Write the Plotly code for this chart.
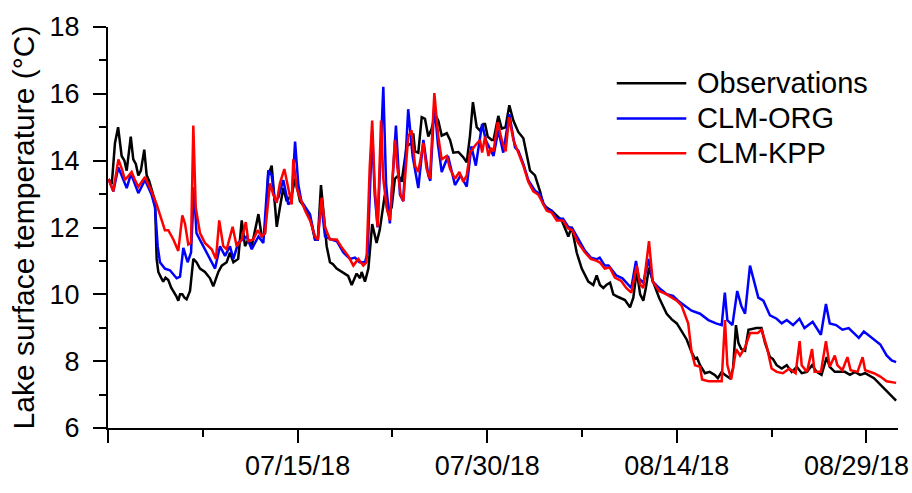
import pandas as pd
import plotly.graph_objects as go

START = pd.Timestamp("2018-06-30")

# Observed lake surface temperature (days since 2018-06-30, deg C)
obs_day = [0.05, 0.3, 0.55, 0.8, 1.08, 1.3, 1.48, 1.8, 2.0, 2.2, 2.4, 2.6, 2.87, 3.06, 3.25, 3.45, 3.72, 3.85, 3.98,
           4.2, 4.37, 4.55, 4.77, 5.0, 5.17, 5.4, 5.56, 5.7, 5.88, 6.05, 6.22, 6.49, 6.75, 7.0, 7.28, 7.67, 8.07, 8.33,
           8.73, 9.0, 9.39, 9.65, 9.92, 10.3, 10.58, 10.84, 11.1, 11.37, 11.9, 12.16, 12.42, 12.68, 12.95, 13.2, 13.35,
           13.6, 13.87, 14.14, 14.53, 14.8, 15.19, 15.58, 15.98, 16.38, 16.6, 16.85, 17.03, 17.3, 17.56, 17.8, 18.09,
           18.62, 19.0, 19.28, 19.67, 19.94, 20.07, 20.33, 20.6, 20.9, 21.1, 21.25, 21.5, 21.9, 22.18, 22.44, 22.7,
           22.97, 23.23, 23.63, 24.02, 24.15, 24.29, 24.55, 24.82, 25.08, 25.34, 25.6, 25.87, 26.13, 26.4, 26.8, 27.06,
           27.32, 27.72, 28.11, 28.38, 28.64, 28.87, 29.17, 29.43, 29.7, 29.83, 30.04, 30.36, 30.5, 30.88, 31.15,
           31.45, 31.75, 32.07, 32.46, 32.86, 33.12, 33.39, 33.78, 34.18, 34.44, 34.71, 35.1, 35.5, 35.9, 36.42,
           36.68, 37.08, 37.48, 38.0, 38.39, 38.66, 38.92, 39.19, 39.45, 39.72, 39.98, 40.37, 40.9, 41.3, 41.56,
           41.83, 42.1, 42.35, 42.55, 42.8, 43.1, 43.6, 44.2, 44.6, 45.0, 45.38, 45.78, 46.17, 46.44, 46.6, 46.84,
           47.23, 47.6, 48.0, 48.25, 48.55, 48.8, 49.2, 49.45, 49.68, 49.87, 50.1, 50.4, 50.67, 51.3, 51.7, 51.98,
           52.37, 52.6, 52.9, 53.3, 53.7, 54.09, 54.5, 54.88, 55.3, 55.7, 56.07, 56.45, 56.86, 57.1, 57.5, 57.9,
           58.3, 58.7, 59.1, 59.5, 59.9, 60.6, 61.1, 61.6, 62.0, 62.35]
obs_temp = [13.45, 13.3, 14.52, 15.0, 14.14, 14.0, 13.7, 14.72, 14.04, 13.9, 13.56, 13.7, 14.33, 13.56, 13.4, 13.17,
            12.79, 11.06, 10.67, 10.5, 10.38, 10.5, 10.43, 10.2, 10.1, 9.95, 9.81, 10.0, 10.0, 9.9, 9.85, 10.1,
            11.06, 10.96, 10.77, 10.67, 10.48, 10.24, 10.67, 10.86, 10.96, 11.25, 10.96, 11.06, 12.21, 11.44, 11.64,
            11.44, 12.4, 11.73, 11.83, 13.56, 13.85, 12.6, 12.02, 12.6, 13.18, 12.79, 12.98, 13.46, 12.79, 12.6,
            12.3, 11.64, 11.64, 13.27, 12.5, 11.44, 10.96, 10.9, 10.77, 10.65, 10.55, 10.28, 10.62, 10.48, 10.67,
            10.38, 10.77, 12.1, 11.8, 11.54, 11.93, 12.98, 12.4, 12.6, 13.46, 13.56, 13.37, 14.43, 14.53, 14.82,
            14.28, 14.24, 15.3, 15.25, 14.72, 14.95, 15.39, 15.2, 14.75, 14.82, 14.62, 14.24, 14.26, 14.1, 13.95,
            14.75, 15.75, 15.0, 14.9, 15.1, 15.1, 14.72, 14.62, 14.62, 15.34, 14.96, 15.0, 15.66, 15.2, 14.86,
            14.67, 14.14, 13.7, 13.56, 13.08, 12.69, 12.6, 12.5, 12.36, 12.21, 11.73, 12.02, 11.25, 10.77, 10.38,
            10.28, 10.57, 10.28, 10.19, 10.29, 10.35, 10.0, 9.92, 9.83, 9.61, 9.9, 10.7, 10.0, 9.81, 10.19, 10.8,
            10.4, 9.9, 9.42, 9.25, 9.13, 8.9, 8.65, 8.27, 8.07, 8.1, 7.88, 7.64, 7.68, 7.59, 7.49, 7.68, 7.59, 7.49,
            7.78, 9.08, 8.55, 8.36, 8.31, 8.94, 8.99, 8.99, 8.55, 8.12, 8.07, 7.88, 7.78, 7.88, 7.68, 7.83, 7.64,
            7.68, 7.88, 7.68, 7.59, 8.12, 7.83, 7.68, 7.68, 7.68, 7.59, 7.68, 7.59, 7.64, 7.49, 7.3, 7.11, 6.96, 6.82]

# CLM-ORG simulation
org_day = [0.05, 0.42, 0.82, 1.1, 1.48, 1.82, 2.1, 2.4, 2.93, 3.2, 3.45, 3.72, 3.93, 4.11, 4.5, 4.9, 5.17, 5.43, 5.7,
           5.96, 6.3, 6.57, 6.8, 7.0, 7.4, 7.8, 8.2, 8.47, 8.86, 9.26, 9.65, 9.92, 10.3, 10.7, 10.97, 11.37, 11.9,
           12.29, 12.68, 12.95, 13.2, 13.47, 13.87, 14.26, 14.53, 14.8, 15.06, 15.3, 15.6, 15.98, 16.38, 16.6, 16.85,
           17.17, 17.7, 18.1, 18.62, 19.15, 19.54, 19.9, 20.33, 20.54, 20.9, 21.1, 21.33, 21.6, 21.78, 22.0, 22.3,
           22.78, 23.1, 23.36, 23.75, 24.1, 24.55, 24.95, 25.34, 25.5, 25.82, 26.1, 26.4, 26.9, 27.45, 27.9, 28.38,
           28.75, 29.1, 29.6, 29.9, 30.5, 30.88, 31.27, 31.75, 32.2, 32.46, 32.86, 33.25, 33.78, 34.18, 34.44, 34.71,
           35.1, 35.5, 36.0, 36.42, 36.74, 37.3, 37.74, 38.2, 38.66, 38.9, 39.3, 39.6, 40.2, 40.7, 41.4, 41.77, 42.0,
           42.35, 42.75, 43.1, 43.6, 44.2, 44.7, 45.1, 45.6, 46.17, 46.84, 47.5, 48.1, 48.55, 48.8, 49.0, 49.4,
           49.78, 50.1, 50.4, 50.79, 51.05, 51.45, 51.85, 52.37, 52.9, 53.3, 53.7, 54.2, 54.7, 55.1, 55.75, 56.4,
           56.8, 57.1, 57.6, 58.1, 58.6, 59.4, 59.8, 60.6, 61.1, 61.6, 62.0, 62.35]
org_temp = [13.45, 13.08, 13.8, 13.55, 13.18, 13.61, 13.35, 13.03, 13.42, 13.2, 12.98, 12.6, 11.44, 10.96, 10.77,
            10.72, 10.6, 10.48, 10.53, 11.39, 10.96, 11.25, 13.2, 11.83, 11.54, 11.25, 11.0, 10.77, 11.44, 11.15,
            11.44, 11.06, 11.54, 11.64, 11.73, 11.35, 11.73, 11.54, 13.71, 13.56, 12.79, 12.89, 13.42, 12.69, 12.79,
            14.57, 13.27, 12.79, 12.6, 12.4, 11.64, 11.64, 12.79, 11.73, 11.64, 11.59, 11.25, 11.06, 11.1, 10.96,
            10.96, 11.25, 14.9, 13.0, 12.0, 14.8, 16.21, 13.3, 12.12, 15.05, 12.98, 12.79, 15.54, 14.14, 13.18,
            14.62, 13.56, 13.4, 15.7, 14.5, 13.66, 14.14, 13.27, 13.56, 13.22, 14.43, 13.85, 15.1, 14.6, 14.14,
            14.91, 14.24, 15.39, 14.4, 14.3, 13.9, 13.42, 13.1, 13.0, 12.74, 12.55, 12.5, 12.26, 12.26, 12.02,
            11.97, 11.6, 11.3, 11.1, 11.05, 11.1, 10.86, 10.86, 10.57, 10.48, 10.19, 11.0, 10.48, 10.34, 11.06,
            10.38, 10.19, 10.0, 9.95, 9.81, 9.66, 9.51, 9.42, 9.23, 9.13, 9.08, 10.05, 9.23, 9.08, 10.1, 9.66, 9.42,
            10.86, 10.48, 9.9, 9.81, 9.37, 9.27, 9.13, 9.23, 9.08, 9.27, 8.99, 9.18, 8.79, 9.71, 9.13, 9.08, 8.94,
            8.99, 8.7, 8.89, 8.65, 8.5, 8.17, 8.02, 7.97]

# CLM-KPP simulation
kpp_day = [0.05, 0.42, 0.82, 1.1, 1.35, 1.87, 2.1, 2.4, 2.93, 3.2, 3.45, 3.85, 4.25, 4.5, 4.77, 5.17, 5.56, 5.88, 6.09,
           6.35, 6.57, 6.75, 6.94, 7.28, 7.67, 8.2, 8.54, 8.8, 9.12, 9.39, 9.86, 10.18, 10.58, 10.9, 11.1, 11.5,
           11.84, 12.16, 12.42, 12.82, 13.08, 13.35, 13.6, 13.95, 14.26, 14.53, 14.66, 14.93, 15.19, 15.6, 16.0,
           16.38, 16.6, 16.9, 17.17, 17.56, 18.1, 18.5, 19.0, 19.41, 19.8, 20.2, 20.45, 20.7, 20.9, 21.1, 21.33,
           21.6, 21.78, 22.04, 22.3, 22.7, 22.9, 23.15, 23.36, 23.75, 24.02, 24.29, 24.55, 24.95, 25.2, 25.47, 25.82,
           26.13, 26.4, 26.8, 27.06, 27.45, 27.8, 28.11, 28.38, 28.64, 29.0, 29.43, 29.6, 29.83, 30.1, 30.3, 30.5,
           30.83, 31.15, 31.46, 31.73, 32.07, 32.46, 32.86, 33.25, 33.65, 34.05, 34.44, 34.71, 35.1, 35.5, 36.0,
           36.4, 36.74, 37.2, 37.74, 38.2, 38.66, 38.92, 39.3, 39.7, 40.1, 40.6, 41.0, 41.4, 41.83, 42.1, 42.35,
           42.8, 43.1, 43.6, 44.2, 44.6, 45.0, 45.38, 45.6, 45.9, 46.17, 46.44, 46.84, 47.0, 47.5, 48.55, 48.81, 49.0,
           49.3, 49.7, 50.0, 50.4, 50.8, 51.4, 51.7, 52.1, 52.5, 52.9, 53.4, 53.9, 54.4, 54.72, 54.88, 55.3, 55.7,
           55.9, 56.4, 56.8, 57.1, 57.5, 57.7, 58.1, 58.5, 58.75, 59.3, 59.7, 59.9, 60.6, 61.1, 61.6, 62.35]
kpp_temp = [13.45, 13.08, 14.04, 13.75, 13.42, 13.66, 13.45, 13.22, 13.51, 13.3, 13.08, 12.69, 12.21, 11.92, 11.92,
            11.64, 11.3, 12.36, 12.12, 11.49, 11.54, 15.05, 12.6, 11.83, 11.54, 11.35, 11.06, 12.21, 11.44, 11.35,
            12.02, 11.44, 11.64, 12.16, 11.59, 11.64, 11.92, 11.73, 11.83, 13.32, 12.98, 12.74, 13.32, 13.75, 13.18,
            12.69, 14.04, 13.18, 12.89, 12.5, 12.2, 11.73, 11.64, 12.89, 12.02, 11.64, 11.64, 11.4, 11.15, 10.86,
            11.06, 10.86, 10.96, 13.76, 15.2, 13.27, 12.02, 15.2, 13.46, 12.6, 12.21, 14.62, 13.76, 12.98, 12.79,
            14.72, 14.91, 13.85, 13.66, 14.53, 13.76, 13.46, 16.02, 14.72, 14.04, 14.14, 13.76, 13.46, 13.66, 13.37,
            13.56, 14.24, 14.43, 14.62, 14.24, 14.72, 14.14, 14.38, 14.28, 15.15, 14.62, 14.28, 15.3, 14.62, 14.24,
            13.85, 13.37, 13.08, 12.98, 12.69, 12.5, 12.45, 12.21, 12.21, 11.97, 11.92, 11.54, 11.25, 11.06, 11.0,
            10.95, 10.77, 10.8, 10.5, 10.4, 10.19, 10.05, 10.86, 10.29, 10.19, 11.59, 10.38, 10.1, 10.0, 9.9, 9.81,
            9.66, 9.42, 9.13, 8.27, 7.88, 7.83, 7.45, 7.4, 7.4, 9.23, 7.88, 7.45, 8.36, 8.17, 8.41, 8.84, 8.84, 8.94,
            8.46, 7.78, 7.68, 7.64, 7.78, 7.64, 8.6, 7.88, 7.68, 8.36, 7.68, 7.68, 8.6, 7.83, 8.17, 7.88, 7.73, 8.12,
            7.73, 7.68, 8.12, 7.73, 7.64, 7.54, 7.4, 7.35]

# Axis ticks (days since start) and labels
major_tick_days = [0, 15, 30, 45, 60]
major_tick_text = ["", "07/15/18", "07/30/18", "08/14/18", ""]
last_tick_day = 60
last_tick_text = "08/29/18"   # placed separately so it stays inside the page
minor_tick_days = [7.5, 22.5, 37.5, 52.5]
x_end_day = 62.5

series_names = ["Observations", "CLM-ORG", "CLM-KPP"]
series_colors = ["#000000", "#0000FF", "#FF0000"]


def to_dates(days):
    return START + pd.to_timedelta(pd.Series(days, dtype=float), unit="D")


FONT = "Liberation Sans, Arial, sans-serif"
LINE_W = 2.5
x_range = [START, START + pd.Timedelta(days=x_end_day)]

fig = go.Figure()
for name, d, t, c in zip(series_names, [obs_day, org_day, kpp_day],
                         [obs_temp, org_temp, kpp_temp], series_colors):
    fig.add_trace(go.Scatter(x=to_dates(d), y=t, mode="lines", name=name,
                             line=dict(color=c, width=LINE_W), showlegend=False))

# Key drawn in paper space: short line sample followed by the series name
key_x0, key_x1, key_text_x = 0.644, 0.732, 0.743
key_rows = [0.860, 0.772, 0.685]
for name, c, ky in zip(series_names, series_colors, key_rows):
    fig.add_shape(type="line", xref="paper", yref="paper", x0=key_x0, x1=key_x1,
                  y0=ky, y1=ky, line=dict(color=c, width=LINE_W))
    fig.add_annotation(xref="paper", yref="paper", x=key_text_x, y=ky, text=name,
                       showarrow=False, xanchor="left", yanchor="middle",
                       font=dict(size=29, color="black"))

# Last date label, nudged left of its tick
fig.add_annotation(xref="x", yref="paper", x=to_dates([last_tick_day]).iloc[0], y=0,
                   text=last_tick_text, showarrow=False, xanchor="center", yanchor="top",
                   xshift=-10, yshift=-21, font=dict(size=27, color="black"))

fig.update_layout(
    width=912, height=493,
    margin=dict(l=108, r=14, t=23, b=55),
    plot_bgcolor="white", paper_bgcolor="white",
    font=dict(family=FONT, size=27, color="black"),
    showlegend=False,
)

fig.update_xaxes(
    range=x_range,
    tickvals=to_dates(major_tick_days), ticktext=major_tick_text,
    showline=True, linecolor="black", linewidth=2, mirror=False,
    ticks="outside", ticklen=13, tickwidth=2, tickcolor="black",
    showgrid=False, zeroline=False, tickfont=dict(size=27),
    minor=dict(tickvals=to_dates(minor_tick_days), ticks="outside", ticklen=7,
               tickwidth=2, tickcolor="black", showgrid=False),
)
fig.update_yaxes(
    range=[6, 18], tickvals=[6, 8, 10, 12, 14, 16, 18],
    showline=True, linecolor="black", linewidth=2, mirror=False,
    ticks="outside", ticklen=13, tickwidth=2, tickcolor="black",
    showgrid=False, zeroline=False, tickfont=dict(size=27),
    ticklabelstandoff=8,
    title=dict(text="Lake surface temperature (°C)", font=dict(size=30), standoff=6),
    minor=dict(tickvals=[7, 9, 11, 13, 15, 17], ticks="outside", ticklen=7,
               tickwidth=2, tickcolor="black", showgrid=False),
)

fig.write_html("out.html")
